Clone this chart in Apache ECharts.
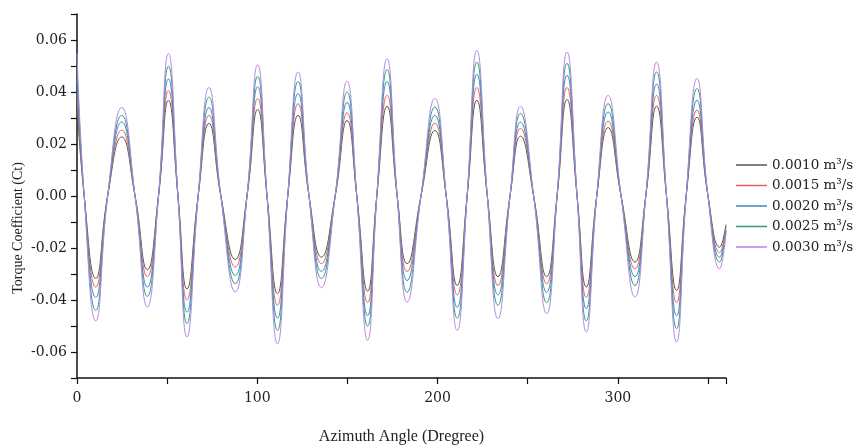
<!DOCTYPE html>
<html>
<head>
<meta charset="utf-8">
<script src="https://cdn.jsdelivr.net/npm/echarts@6/dist/echarts.min.js"></script>
<style>html,body{margin:0;padding:0;background:#fff}#c{width:855px;height:445px}</style>
</head>
<body>
<div id="c"></div>
<script>
// Azimuth angles (degrees) of the read points: start, zero crossings, extrema, end
var angles = [0, 4.0, 10.4, 17.0, 24.8, 32.2, 39.0, 45.2, 50.7, 56.0, 61.0, 67.2, 73.2, 79.8, 87.8, 94.3,
  100.2, 105.4, 111.2, 116.9, 122.6, 128.7, 135.6, 143.2, 149.8, 155.2, 161.2, 166.3, 172.0, 177.6,
  183.1, 190.8, 198.5, 204.8, 210.9, 216.4, 221.8, 227.6, 233.5, 240.2, 246.0, 253.3, 260.5, 266.3,
  271.8, 277.4, 282.5, 288.3, 294.6, 301.8, 309.5, 315.5, 321.5, 327.0, 332.6, 337.9, 343.9, 350.0, 356.5, 360];

var seriesNames = ['0.0010 m\u00b3/s', '0.0015 m\u00b3/s', '0.0020 m\u00b3/s', '0.0025 m\u00b3/s', '0.0030 m\u00b3/s'];

var ct0010 = [0.036, 0, -0.0317, 0, 0.0227, 0, -0.0283, 0, 0.0368, 0, -0.0357, 0, 0.0279, 0, -0.0244, 0,
  0.0333, 0, -0.0375, 0, 0.031, 0, -0.0235, 0, 0.029, 0, -0.0366, 0, 0.0345, 0,
  -0.026, 0, 0.0252, 0, -0.0344, 0, 0.0368, 0, -0.031, 0, 0.023, 0, -0.031, 0,
  0.0371, 0, -0.035, 0, 0.0263, 0, -0.0254, 0, 0.0345, 0, -0.0363, 0, 0.0303, 0, -0.0197, -0.011];
var ct0015 = [0.040, 0, -0.035, 0, 0.0253, 0, -0.031, 0, 0.0406, 0, -0.040, 0, 0.031, 0, -0.0273, 0,
  0.0375, 0, -0.042, 0, 0.0355, 0, -0.026, 0, 0.032, 0, -0.041, 0, 0.0387, 0,
  -0.029, 0, 0.028, 0, -0.038, 0, 0.0417, 0, -0.0344, 0, 0.026, 0, -0.0337, 0,
  0.0417, 0, -0.039, 0, 0.0288, 0, -0.028, 0, 0.0387, 0, -0.041, 0, 0.033, 0, -0.0217, -0.012];
var ct0020 = [0.045, 0, -0.039, 0, 0.0285, 0, -0.035, 0, 0.045, 0, -0.0447, 0, 0.034, 0, -0.0305, 0,
  0.042, 0, -0.047, 0, 0.0394, 0, -0.029, 0, 0.036, 0, -0.046, 0, 0.044, 0,
  -0.0325, 0, 0.031, 0, -0.0428, 0, 0.0468, 0, -0.038, 0, 0.0284, 0, -0.037, 0,
  0.0464, 0, -0.0433, 0, 0.0323, 0, -0.031, 0, 0.043, 0, -0.046, 0, 0.0368, 0, -0.0235, -0.013];
var ct0025 = [0.050, 0, -0.044, 0, 0.031, 0, -0.0386, 0, 0.0499, 0, -0.049, 0, 0.038, 0, -0.0337, 0,
  0.046, 0, -0.0517, 0, 0.044, 0, -0.0317, 0, 0.040, 0, -0.050, 0, 0.0486, 0,
  -0.037, 0, 0.0342, 0, -0.047, 0, 0.0515, 0, -0.042, 0, 0.0317, 0, -0.041, 0,
  0.051, 0, -0.048, 0, 0.0355, 0, -0.0344, 0, 0.0477, 0, -0.051, 0, 0.0413, 0, -0.0254, -0.0135];
var ct0030 = [0.055, 0, -0.048, 0, 0.034, 0, -0.0427, 0, 0.0548, 0, -0.0542, 0, 0.0417, 0, -0.0369, 0,
  0.0505, 0, -0.0568, 0, 0.0477, 0, -0.0352, 0, 0.0442, 0, -0.0555, 0, 0.0528, 0,
  -0.0408, 0, 0.0375, 0, -0.0517, 0, 0.056, 0, -0.0472, 0, 0.0345, 0, -0.0452, 0,
  0.0554, 0, -0.0523, 0, 0.0387, 0, -0.0388, 0, 0.0515, 0, -0.0561, 0, 0.0452, 0, -0.028, -0.014];

var allValues = [ct0010, ct0015, ct0020, ct0025, ct0030];
var colors = ['#555555', '#e8605e', '#3f86c8', '#2f9e72', '#b585ea'];

var xTickLabels = [0, 100, 200, 300];
var yTickLabels = [-0.06, -0.04, -0.02, 0.00, 0.02, 0.04, 0.06];

var titleFont = '"Liberation Serif", "DejaVu Serif", serif';
var tickFont = '"DejaVu Serif", "Liberation Serif", serif';

function pairs(vals) {
  return angles.map(function (a, i) { return [a, vals[i]]; });
}

var series = allValues.map(function (vals, k) {
  return {
    name: seriesNames[k],
    type: 'line',
    data: pairs(vals),
    smooth: 0.5,
    symbol: 'none',
    lineStyle: { width: 1, color: colors[k] },
    itemStyle: { color: colors[k] },
    z: 2 + k
  };
});

var chart = echarts.init(document.getElementById('c'), null, { renderer: 'canvas' });
chart.setOption({
  animation: false,
  backgroundColor: '#fff',
  grid: { left: 77, right: 129, top: 14, bottom: 67, containLabel: false, outerBoundsMode: 'none' },
  legend: {
    orient: 'vertical',
    left: 731,
    top: 153,
    icon: 'rect',
    itemWidth: 31,
    itemHeight: 1.5,
    itemGap: 6.5,
    textStyle: { fontFamily: tickFont, fontSize: 13.5, color: '#222' },
    data: seriesNames
  },
  graphic: [{
    type: 'text',
    x: 18, y: 228,
    rotation: Math.PI / 2,
    style: {
      text: 'Torque Coefficient (Ct)',
      fontFamily: titleFont, fontSize: 14, fill: '#222',
      align: 'center', verticalAlign: 'middle'
    }
  }],
  xAxis: {
    type: 'value',
    min: 0, max: 360, interval: 50,
    name: 'Azimuth Angle (Dregree)',
    nameLocation: 'middle',
    nameGap: 51,
    nameTextStyle: { fontFamily: titleFont, fontSize: 16, color: '#222' },
    axisLine: { show: true, onZero: false, lineStyle: { color: '#111', width: 1.5 } },
    axisTick: { show: true, inside: false, length: 6, lineStyle: { color: '#111', width: 1.2 } },
    axisLabel: {
      fontFamily: tickFont, fontSize: 14, color: '#222', margin: 13,
      formatter: function (v) { return xTickLabels.indexOf(Math.round(v)) >= 0 ? String(Math.round(v)) : ''; }
    },
    splitLine: { show: false }
  },
  yAxis: {
    type: 'value',
    min: -0.07, max: 0.07, interval: 0.01,
    axisLine: { show: true, onZero: false, lineStyle: { color: '#111', width: 1.5 } },
    axisTick: { show: true, inside: false, length: 6, lineStyle: { color: '#111', width: 1.2 } },
    axisLabel: {
      fontFamily: tickFont, fontSize: 14, color: '#222', margin: 10,
      formatter: function (v) {
        var n = Math.round(v * 100);
        for (var i = 0; i < yTickLabels.length; i++) {
          if (Math.round(yTickLabels[i] * 100) === n) return n === 0 ? '0.00' : (n / 100).toFixed(2);
        }
        return '';
      }
    },
    splitLine: { show: false }
  },
  series: series
});
</script>
</body>
</html>
